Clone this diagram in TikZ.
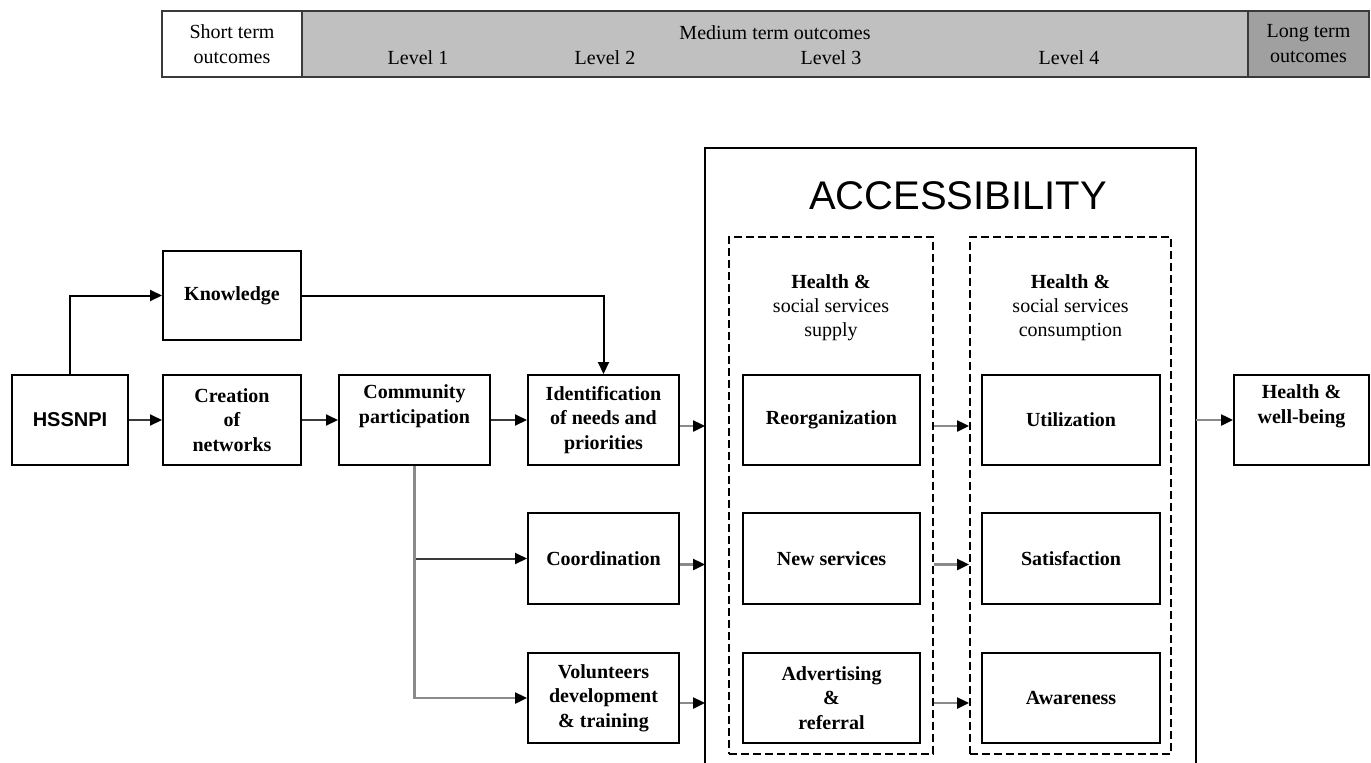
\documentclass[tikz,border=0pt]{standalone}
\usepackage{fontspec}
\setmainfont{Liberation Serif}
\newfontfamily\arialf{Liberation Sans}
\usetikzlibrary{arrows.meta,calc}
\definecolor{medgray}{HTML}{C0C0C0}
\definecolor{longgray}{HTML}{A0A0A0}
\definecolor{linegray}{HTML}{8A8A8A}
\definecolor{darkline}{HTML}{3A3A3A}
\begin{document}
\begin{tikzpicture}[x=1pt,y=-1pt,
  box/.style={draw=black,line width=2pt,fill=white,align=center,inner sep=0pt,
    font=\fontsize{20}{24.5}\selectfont\bfseries},
  dbox/.style={draw=black,line width=2pt,dash pattern=on 8pt off 4pt,inner sep=0pt},
  barcell/.style={draw=darkline,line width=2pt,inner sep=0pt,align=center,
    font=\fontsize{20}{25}\selectfont},
  bartext/.style={inner sep=0pt,font=\fontsize{20}{25}\selectfont},
  head/.style={inner sep=0pt,align=center,font=\fontsize{20}{24}\selectfont},
  arr/.style={line width=2pt,draw=darkline,-{Triangle[length=12pt,width=11pt,color=black]}},
  garr/.style={line width=2.4pt,draw=linegray,-{Triangle[length=12pt,width=11pt,color=black]}},
  ]
\useasboundingbox (0,0) rectangle (1371,763);

% ---- top bar ----
\node[barcell,fill=white,minimum width=140pt,minimum height=66pt] (st) at (232,44)
  {Short term\\outcomes};
\node[barcell,fill=medgray,minimum width=946pt,minimum height=66pt] (med) at (775,44) {};
\node[barcell,fill=longgray,minimum width=121pt,minimum height=66pt] (lt) at (1308.5,44)
  {Long term\\outcomes};
\node[bartext] (medt) at (775,33) {Medium term outcomes};
\node[bartext] (l1) at (418,58) {Level 1};
\node[bartext] (l2) at (605,58) {Level 2};
\node[bartext] (l3) at (831,58) {Level 3};
\node[bartext] (l4) at (1069,58) {Level 4};

% ---- accessibility frame ----
\coordinate (accL) at (705,0);
\coordinate (accR) at (1196,0);
\draw[line width=2pt] (705,763) -- (705,148) -- (1196,148) -- (1196,763);
\node[inner sep=0pt,font=\arialf\fontsize{40}{44}\selectfont] (acct) at (958,196) {ACCESSIBILITY};

\node[dbox,minimum width=204pt,minimum height=517pt] (dsup) at (831,495.5) {};
\node[dbox,minimum width=201pt,minimum height=517pt] (dcon) at (1070.5,495.5) {};
\node[head] (hsup) at (831,308) {\bfseries Health \&\\social services\\supply};
\node[head] (hcon) at (1070.5,308) {\bfseries Health \&\\social services\\consumption};

% ---- left boxes ----
\node[box,minimum width=116pt,minimum height=90pt,font=\arialf\fontsize{20}{24}\selectfont\bfseries] (hss) at (70,420) {HSSNPI};
\node[box,minimum width=138pt,minimum height=89pt] (kno) at (232,295.5) {Knowledge};
\node[box,minimum width=138pt,minimum height=90pt] (cre) at (232,420) {Creation\\of\\networks};
\node[box,minimum width=151pt,minimum height=90pt] (com) at (414.5,420) {Community\\participation\\\strut};
\node[box,minimum width=151pt,minimum height=90pt] (idn) at (603.5,420) {Identification\\of needs and\\priorities};
\node[box,minimum width=151pt,minimum height=91pt] (coo) at (603.5,558.5) {Coordination};
\node[box,minimum width=151pt,minimum height=90pt] (vol) at (603.5,698) {Volunteers\\development\\\& training};

% ---- inner boxes ----
\node[box,minimum width=177pt,minimum height=90pt] (reo) at (831.5,420) {Reorganization};
\node[box,minimum width=177pt,minimum height=91pt] (nsv) at (831.5,558.5) {New services};
\node[box,minimum width=177pt,minimum height=90pt] (adv) at (831.5,698) {Advertising\\\&\\referral};
\node[box,minimum width=178pt,minimum height=90pt] (uti) at (1071,420) {Utilization};
\node[box,minimum width=178pt,minimum height=91pt] (sat) at (1071,558.5) {Satisfaction};
\node[box,minimum width=178pt,minimum height=90pt] (awa) at (1071,698) {Awareness};
\node[box,minimum width=135pt,minimum height=90pt] (hwb) at (1301.5,420) {Health \&\\well-being\\\strut};

% ---- connectors ----
\draw[arr] (hss.east) -- (cre.west);
\draw[arr] (cre.east) -- (com.west);
\draw[arr] (com.east) -- (idn.west);
\draw[arr,draw=black] (hss.north) |- (kno.west);
\draw[arr,draw=black] (kno.east) -| (idn.north);
\draw[arr] (com.south) |- (coo.west);
\draw[garr] (com.south) |- (vol.west);

\coordinate (a1) at ([yshift=-6pt]idn.east);
\coordinate (a2) at ([yshift=-6pt]coo.east);
\coordinate (a3) at ([yshift=-5pt]vol.east);
\draw[garr] (a1) -- (a1 -| accL);
\draw[garr] (a2) -- (a2 -| accL);
\draw[garr] (a3) -- (a3 -| accL);

\coordinate (b1) at ([yshift=-6pt]reo.east);
\coordinate (b2) at ([yshift=-6pt]nsv.east);
\coordinate (b3) at ([yshift=-5pt]adv.east);
\draw[garr] (b1 -| dsup.east) -- (b1 -| dcon.west);
\draw[garr] (b2 -| dsup.east) -- (b2 -| dcon.west);
\draw[garr] (b3 -| dsup.east) -- (b3 -| dcon.west);

\draw[garr] (hwb.west -| accR) -- (hwb.west);
\end{tikzpicture}
\end{document}
